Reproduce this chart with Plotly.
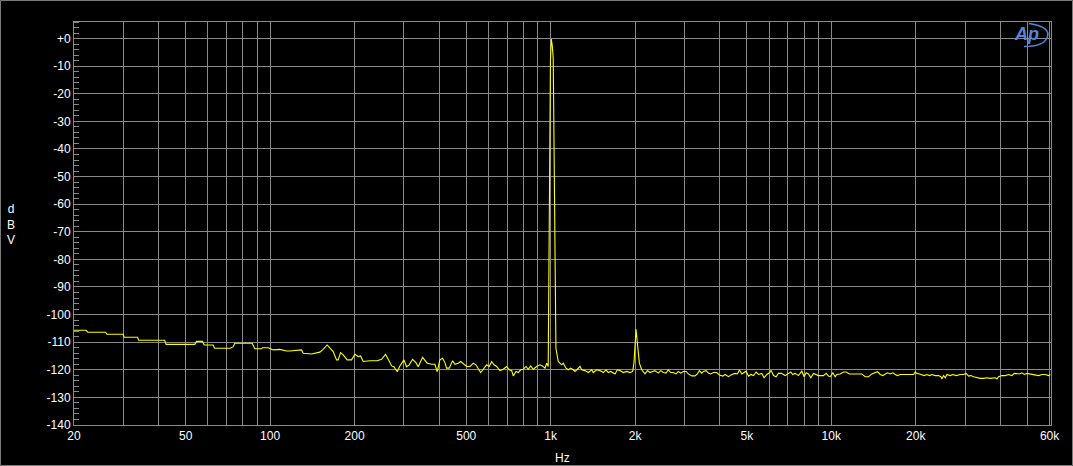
import plotly.graph_objects as go
import math

# ---------------- data ----------------
freq_hz = [
    20, 22.1, 22.4, 25.9, 26.2, 29.9, 30.2, 33.7, 34.0, 42.1, 42.6, 53.9, 54.7, 57.4, 58.2,
    62.6, 63.4, 72.0, 73.8, 74.8, 86.3, 88.2, 93.2, 94.0, 98.4, 102.5, 108.3, 114.4,
    117.6, 129.4, 131.2, 140.5, 150.4, 154.5, 159.7, 163.3, 167.8, 172.5, 174.8, 178.3,
    182.2, 188.2, 195.1, 200.5, 206.0, 210.1, 214.7, 226.8, 240.8, 249.6, 257.9, 263.6,
    271.0, 276.2, 283.8, 290.1, 299.9, 306.4, 313.1, 322.0, 330.8, 337.1, 349.5, 363.0,
    376.3, 386.7, 394.1,
    402.9, 411.9, 419.8, 425.7, 434.9, 447.2, 455.8, 468.4, 477.6, 490.8, 501.8, 515.6,
    529.8, 541.6, 551.9, 562.9, 575.0, 591.3, 604.0, 616.0, 627.8, 641.8, 659.5, 677.6,
    696.8, 711.9, 726.0, 735.6, 752.2, 766.5, 781.7, 798.6, 816.5, 832.1, 848.7, 866.5,
    891.2, 915.5, 940.7, 954.0, 967.5, 980.0,
    998.0, 1005.0, 1013.0, 1021.0, 1044.0, 1064.0,
    1079.4, 1094.4, 1109.1, 1133.9, 1155.5, 1178.4, 1203.9, 1220.9, 1244.2, 1272.0, 1290.0,
    1325.2, 1361.7, 1400.2, 1418.7, 1458.8, 1499.1, 1540.4, 1574.8, 1604.8, 1636.9, 1671.5,
    1695.2, 1727.5, 1766.2, 1814.8, 1866.1, 1917.3, 1960.2, 1981.3, 1998.6, 2014.7, 2037.2,
    2052.3, 2070.8, 2110.3, 2168.4, 2211.7, 2259.1, 2309.6, 2353.6, 2418.4, 2466.8, 2520.2,
    2576.6, 2625.7, 2678.2, 2735.6, 2797.4, 2850.7, 2907.7, 2970.0, 3037.1, 3094.9, 3182.4,
    3269.3, 3331.6, 3387.3, 3454.2, 3500.0, 3579.0, 3647.2, 3719.2, 3799.7, 3907.1, 3996.9,
    4106, 4185, 4301, 4421, 4543, 4631, 4707, 4799, 4892, 4973, 5069, 5167, 5281, 5398,
    5503, 5655, 5764, 5892, 6022, 6106, 6224, 6358, 6481, 6652, 6847, 7037, 7173, 7292,
    7434, 7640, 7852, 8005, 8137, 8294, 8454, 8643, 8834, 9004, 9178, 9381, 9590, 9777,
    9911, 10130, 10325, 10468, 10759, 11058, 11303, 11614, 12002, 12335, 12608, 12852,
    13210, 13577, 13955, 14343, 14621,
    14945, 15276, 15571, 15873, 16224, 16582, 16903, 17230, 17611, 18100, 18602, 19118,
    19649, 19918, 20195, 20642, 21040, 21447, 21921, 22406, 22843, 23477, 24126, 24596,
    24797, 25140, 25485, 25835, 26547, 27137, 27884, 28815, 29615, 30270, 30855, 31452,
    32155, 33045, 33958, 34899, 35866, 36861, 38407, 38936, 39474, 40567, 41692, 42849,
    44037, 44888, 45883, 46898, 47805, 48736, 49814, 50917, 51901, 53340, 54822, 56367,
    57925, 59533, 60350,
]

level_dbv = [
    -105.7, -105.7, -106.4, -106.4, -107.1, -107.1, -108.2, -108.2, -109.3, -109.3, -110.8,
    -110.8, -109.7, -109.7, -111.0, -111.0, -112.2, -112.2, -111.7, -110.4, -110.4, -112.4,
    -112.4, -112.0, -112.0, -112.8, -112.6, -113.2,
    -113.2, -112.8, -114.0, -114.3, -113.6, -112.6, -111.0, -112.2, -113.4, -116.4, -116.4,
    -113.8, -114.6, -116.4, -116.4, -114.4, -115.2, -115.0, -117.0, -116.7, -116.7, -116.2,
    -114.4, -116.2, -118.6, -118.9, -120.7, -118.6, -116.4, -118.9, -118.2, -116.2, -117.4,
    -118.9, -115.5, -117.6, -118.0, -118.0, -120.7,
    -116.4, -115.8, -117.4, -119.4, -119.4, -116.7, -118.0, -117.6, -117.0, -118.0, -118.8,
    -118.8, -117.6, -118.2, -119.4, -121.0, -119.8, -118.2, -118.8, -117.0, -118.2, -118.8,
    -120.3, -119.8, -118.8, -120.0, -120.3, -122.2, -120.6, -121.0, -120.0, -119.8, -118.8,
    -119.8, -118.6, -119.8, -118.8, -118.2, -118.8, -119.4, -117.6, -118.8,
    -8.2, -0.2, -2.5, -7.0, -112.2, -117.0,
    -117.6, -118.2, -117.6, -119.4, -120.0, -119.4, -120.0, -120.6, -119.8, -118.8, -120.0,
    -120.3, -121.0, -120.0, -121.0, -120.0, -120.3, -121.0, -120.0, -121.0, -120.6, -121.0,
    -121.5, -120.0, -120.3, -121.0, -120.6, -121.0, -120.6, -117.4, -109.2, -105.3, -110.4,
    -115.0, -117.6, -120.0, -121.5, -120.3, -121.0, -120.6, -120.3, -121.2, -120.3, -121.0,
    -121.2, -120.0, -121.0, -121.0, -121.5, -120.6, -121.2, -120.6, -120.6, -121.5, -122.2,
    -122.2, -121.5, -120.3, -121.2, -120.6, -120.3, -121.2, -121.5, -121.0, -121.0, -121.9,
    -122.3, -121.7, -122.5, -121.7, -121.3, -121.5, -120.1, -121.5, -121.1, -120.5, -122.3,
    -121.7, -122.1, -120.8, -121.7, -121.3, -122.9, -121.7, -121.1, -120.2, -122.1, -122.5,
    -121.3, -121.3, -122.1, -121.3, -120.8, -121.7, -121.3, -122.1, -120.5, -122.5, -121.1,
    -121.5, -122.9, -121.3, -121.7, -122.1, -122.1, -122.1, -121.3, -122.3, -122.5, -121.1,
    -122.5, -121.7, -121.5, -120.8, -120.8, -121.5, -121.5, -121.5, -121.7, -121.5, -122.5,
    -122.5, -121.5, -121.1, -120.7,
    -121.7, -122.1, -121.5, -121.1, -121.5, -121.1, -121.7, -122.1, -121.7, -121.7, -121.7,
    -121.5, -121.7, -120.8, -121.3, -121.5, -121.7, -122.1, -121.7, -122.1, -121.7, -122.1,
    -122.1, -122.5, -123.3, -122.1, -122.9, -121.7, -122.1, -121.7, -122.1, -121.7, -121.7,
    -121.3, -122.3, -122.1, -122.5, -122.9, -123.1, -123.1, -122.9, -123.1, -122.9, -123.3,
    -122.5, -122.1, -122.1, -121.7, -122.1, -121.3, -121.3, -121.5, -121.1, -121.7, -121.3,
    -121.5, -121.7, -121.7, -122.1, -121.7, -121.7, -122.1, -121.7,
]

x_tick_vals = [20, 50, 100, 200, 500, 1000, 2000, 5000, 10000, 20000, 60000]
x_tick_text = ["20", "50", "100", "200", "500", "1k", "2k", "5k", "10k", "20k", "60k"]
x_grid_vals = ([v for v in range(30, 100, 10)] + [v for v in range(100, 1000, 100)] +
               [v for v in range(1000, 10000, 1000)] + [v for v in range(10000, 70000, 10000)])
y_tick_vals = list(range(0, -150, -10))
y_tick_text = ["+0"] + [str(v) for v in y_tick_vals[1:]]

# ---------------- figure ----------------
W, H = 1073, 466
ML, MR, MT, MB = 74, 22, 22, 41
PW, PH = W - ML - MR, H - MT - MB
GRID = "#8a8a8a"
FONT = "Arial, Liberation Sans, sans-serif"


def px_x(px):
    return (px - ML) / PW


def px_y(py):
    return (H - MB - py) / PH


fig = go.Figure()
fig.add_trace(go.Scatter(
    x=freq_hz, y=level_dbv, mode="lines",
    line=dict(color="#ffff00", width=1.1),
    hoverinfo="x+y", showlegend=False,
))

fig.update_layout(
    width=W, height=H, autosize=False,
    margin=dict(l=ML, r=MR, t=MT, b=MB, pad=0),
    paper_bgcolor="#000000", plot_bgcolor="#000000",
    font=dict(family=FONT, size=12, color="#ffffff"),
    showlegend=False,
)

fig.update_xaxes(
    type="log", range=[math.log10(20), math.log10(60700)],
    tickmode="array", tickvals=x_tick_vals, ticktext=x_tick_text,
    showgrid=True, gridcolor=GRID, gridwidth=1,
    minor=dict(tickmode="array", tickvals=x_grid_vals, showgrid=True,
               gridcolor=GRID, gridwidth=1, ticks=""),
    showline=True, linecolor=GRID, linewidth=1, mirror=True,
    ticks="", zeroline=False,
    tickfont=dict(family=FONT, size=12, color="#ffffff"),
)

fig.update_yaxes(
    range=[-140, 6],
    tickmode="array", tickvals=y_tick_vals, ticktext=y_tick_text,
    showgrid=True, gridcolor=GRID, gridwidth=1,
    minor=dict(dtick=2, tick0=0, ticks="inside", ticklen=5, tickcolor=GRID, showgrid=False),
    ticks="",
    showline=True, linecolor=GRID, linewidth=1, mirror=True,
    zeroline=False,
    tickfont=dict(family=FONT, size=12, color="#ffffff"),
)

# axis titles
fig.add_annotation(text="d<br>B<br>V", xref="paper", yref="paper",
                   x=px_x(11), y=px_y(224), xanchor="center", yanchor="middle",
                   showarrow=False, font=dict(family=FONT, size=12, color="#ffffff"))
fig.add_annotation(text="Hz", xref="paper", yref="paper",
                   x=px_x(562), y=px_y(458), xanchor="center", yanchor="middle",
                   showarrow=False, font=dict(family=FONT, size=12, color="#ffffff"))

# Ap logo
fig.add_annotation(text="<b><i>Ap</i></b>", xref="paper", yref="paper",
                   x=px_x(1026), y=px_y(34), xanchor="center", yanchor="middle",
                   showarrow=False, font=dict(family=FONT, size=18, color="#5585d8"))
swoosh = "M {} {} Q {} {} {} {} Q {} {} {} {}".format(
    px_x(1029), px_y(23.5), px_x(1052), px_y(27), px_x(1047), px_y(38),
    px_x(1043), px_y(46.5), px_x(1024), px_y(46.5))
fig.add_shape(type="path", path=swoosh, xref="paper", yref="paper",
              line=dict(color="#5585d8", width=1.5))

# outer frame
fig.add_shape(type="rect", xref="paper", yref="paper",
              x0=px_x(0.5), x1=px_x(W - 0.5), y0=px_y(H - 0.5), y1=px_y(0.5),
              line=dict(color="#7a7a7a", width=1))

fig.write_html("out.html",
               config={"displayModeBar": False},
               post_script="document.body.style.margin='0';document.body.style.overflow='hidden';")
